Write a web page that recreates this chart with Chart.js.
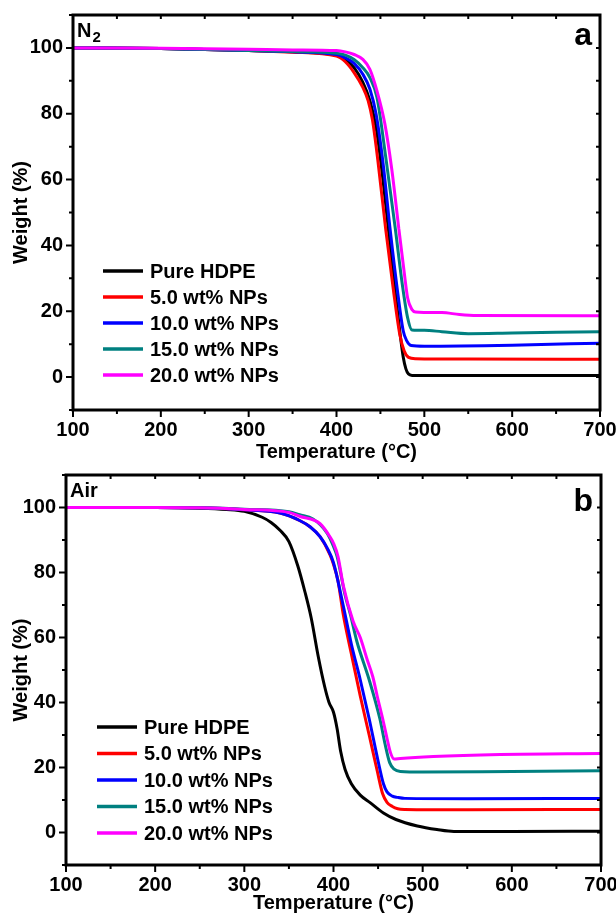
<!DOCTYPE html>
<html>
<head>
<meta charset="utf-8">
<script src="https://cdn.jsdelivr.net/npm/chart.js@4.4.1/dist/chart.umd.min.js"></script>
<style>
  body { margin: 0; background: #fff; }
  canvas { position: absolute; left: 0; }
  #chart-n2 { top: 0; }
  #chart-air { top: 470px; }
</style>
</head>
<body>
<canvas id="chart-n2" width="616" height="470"></canvas>
<canvas id="chart-air" width="616" height="446"></canvas>
<script>
// series names and colours
const seriesNames = ['Pure HDPE', '5.0 wt% NPs', '10.0 wt% NPs', '15.0 wt% NPs', '20.0 wt% NPs'];
const seriesColors = ['#000000', '#ff0000', '#0000ff', '#008080', '#ff00ff'];

//  (a) N2 atmosphere: temperature (C) / weight (%)
const n2PureT = [100, 200, 300, 350, 400, 410, 420, 430, 438, 445, 452, 459, 466, 472, 476, 479, 482, 486, 500, 600, 700];
const n2PureW = [100, 99.8, 99.2, 98.8, 97.8, 96.5, 94, 89.5, 84, 76, 62, 45, 28, 14, 6, 2.5, 0.9, 0.5, 0.5, 0.5, 0.5];
const n2P5T = [100, 200, 300, 350, 400, 410, 420, 430, 436, 441, 447, 456, 465, 472, 477, 482, 490, 550, 700];
const n2P5W = [100, 99.8, 99.2, 98.7, 97.5, 95.8, 92.5, 88, 84, 78, 66, 45, 26, 13, 8, 6, 5.6, 5.5, 5.4];
const n2P10T = [100, 200, 300, 350, 400, 410, 420, 430, 438, 445, 453, 461, 470, 476, 480, 485, 500, 600, 700];
const n2P10W = [100, 99.8, 99.2, 98.8, 98, 97, 95.3, 92, 87.5, 80, 65, 45, 25, 14, 11, 9.6, 9.4, 9.7, 10.3];
const n2P15T = [100, 200, 300, 350, 400, 410, 420, 430, 438, 446, 457, 467, 475, 481, 486, 500, 520, 550, 600, 700];
const n2P15W = [100, 99.8, 99.2, 98.9, 98.4, 97.8, 96.5, 94, 91, 85, 65, 45, 28, 18, 14.3, 14.2, 13.8, 13.2, 13.4, 13.8];
const n2P20T = [100, 200, 300, 350, 400, 410, 420, 430, 438, 446, 455, 463, 471, 477, 481, 486, 490, 520, 540, 560, 700];
const n2P20W = [100, 99.9, 99.6, 99.4, 99.2, 98.8, 98, 96.5, 93.5, 87, 77, 63, 45, 32, 24, 20.5, 19.8, 19.6, 19, 18.7, 18.6];

//  (b) Air atmosphere
const airPureT = [100, 200, 250, 280, 300, 320, 330, 340, 350, 360, 368, 375, 383, 390, 395, 400, 404, 408, 413, 420, 430, 441, 456, 470, 494, 516, 535, 600, 700];
const airPureW = [100, 100, 99.8, 99.4, 98.8, 97, 95.4, 93, 89.5, 82, 74, 66, 54, 45, 40, 37, 32, 25, 19.4, 15, 11.5, 9.2, 6, 4, 2, 0.9, 0.3, 0.3, 0.4];
const airP5T = [100, 200, 250, 300, 340, 362, 374, 385, 396, 400, 405, 411, 420, 430, 440, 449, 455, 460, 466, 472, 480, 550, 700];
const airP5W = [100, 100, 99.9, 99.3, 98.3, 96, 94, 91, 85.5, 82.5, 77.5, 67, 55, 42, 30, 19, 12, 9.3, 8, 7.3, 7.1, 7.0, 7.1];
const airP10T = [100, 200, 250, 300, 340, 362, 374, 385, 393, 400, 410, 420, 430, 440, 450, 456, 460, 466, 472, 480, 550, 700];
const airP10W = [100, 100, 99.9, 99.3, 98.3, 96, 94, 91, 87.5, 83, 71, 58, 47, 35, 22, 15, 12.5, 11.2, 10.8, 10.5, 10.4, 10.5];
const airP15T = [100, 200, 250, 300, 350, 362, 377, 393, 400, 404, 413, 419, 426, 440, 452, 458, 463, 468, 475, 500, 600, 700];
const airP15W = [100, 100, 99.9, 99.5, 98.7, 97.8, 96.5, 92, 88, 85, 73, 67, 59, 47, 35, 27, 21.5, 19.5, 18.8, 18.6, 18.8, 19.0];
const airP20T = [100, 200, 250, 300, 350, 362, 385, 396, 400, 405, 411, 422, 430, 438, 444, 449, 456, 460, 464, 468, 475, 512, 587, 700];
const airP20W = [100, 100, 99.9, 99.4, 98.5, 97.3, 95, 91, 89, 85, 76, 65, 60, 53, 48, 42, 34, 29, 24.5, 22.6, 22.8, 23.4, 24, 24.3];

Chart.defaults.font.family = "'Liberation Sans', Arial, sans-serif";
Chart.defaults.font.weight = 'bold';
Chart.defaults.color = '#000';

function makeDatasets(pairs) {
    return pairs.map((p, i) => ({
        label: seriesNames[i],
        data: p[0].map((t, k) => ({x: t, y: p[1][k]})),
        borderColor: seriesColors[i],
        borderWidth: 3,
        pointRadius: 0,
        cubicInterpolationMode: 'monotone',
        order: 5 - i
    }));
}

// frame, tick marks, legend and panel labels
const decorations = {
    id: 'decorations',
    afterDatasetsDraw(chart, args, opts) {
        const {ctx, chartArea: a, scales: {x, y}} = chart;
        ctx.save();
        ctx.strokeStyle = '#000';
        ctx.lineWidth = 2;
        ctx.beginPath();
        x.ticks.forEach(t => {
            const px = x.getPixelForValue(t.value);
            const len = t.value % 100 === 0 ? 7 : 4;
            ctx.moveTo(px, a.bottom); ctx.lineTo(px, a.bottom + len);
            ctx.moveTo(px, a.top); ctx.lineTo(px, a.top + 4);
        });
        y.ticks.forEach(t => {
            const py = y.getPixelForValue(t.value);
            const len = t.value % 20 === 0 ? 7 : 4;
            ctx.moveTo(a.left, py); ctx.lineTo(a.left - len, py);
            ctx.moveTo(a.right, py); ctx.lineTo(a.right - 4, py);
        });
        ctx.stroke();
        ctx.lineWidth = 3;
        ctx.strokeRect(a.left, a.top, a.right - a.left, a.bottom - a.top);

        // legend
        ctx.font = "bold 20px 'Liberation Sans', Arial, sans-serif";
        ctx.textBaseline = 'middle';
        ctx.fillStyle = '#000';
        chart.data.datasets.forEach((ds, i) => {
            const ly = a.top + opts.legendTop + i * opts.legendStep;
            ctx.strokeStyle = ds.borderColor;
            ctx.lineWidth = 3.5;
            ctx.beginPath();
            ctx.moveTo(a.left + opts.legendX, ly);
            ctx.lineTo(a.left + opts.legendX + 40, ly);
            ctx.stroke();
            ctx.fillText(ds.label, a.left + opts.legendX + 47, ly + 1);
        });

        // panel labels
        ctx.textBaseline = 'alphabetic';
        ctx.font = "bold 20px 'Liberation Sans', Arial, sans-serif";
        ctx.fillText(opts.gas, a.left + 4, a.top + opts.gasBase);
        if (opts.sub) {
            const w = ctx.measureText(opts.gas).width;
            ctx.font = "bold 15px 'Liberation Sans', Arial, sans-serif";
            ctx.fillText(opts.sub, a.left + 5 + w, a.top + opts.gasBase + 5);
        }
        ctx.font = "bold 32px 'Liberation Sans', Arial, sans-serif";
        ctx.textAlign = 'right';
        ctx.fillText(opts.letter, a.right - 8, a.top + opts.letterBase);
        ctx.restore();
    }
};

function makeOptions(axisHeight, titlePad, deco) {
    return {
        responsive: false,
        animation: false,
        events: [],
        layout: { padding: { top: deco.top, right: deco.right, left: 0, bottom: 0 } },
        plugins: {
            legend: { display: false },
            tooltip: { enabled: false },
            decorations: deco
        },
        scales: {
            x: {
                type: 'linear',
                min: 100,
                max: 700,
                afterFit: s => {
                    s.height = axisHeight;
                    s.paddingLeft = 0;
                    s.paddingRight = 0;
                },
                grid: { display: false, drawTicks: false },
                border: { display: false },
                ticks: {
                    stepSize: 50,
                    autoSkip: false,
                    maxRotation: 0,
                    padding: 8,
                    font: { size: 20, weight: 'bold' },
                    callback: v => v % 100 === 0 ? v : ''
                },
                title: {
                    display: true,
                    text: 'Temperature (°C)',
                    font: { size: 20, weight: 'bold' },
                    padding: { top: 0, bottom: titlePad }
                }
            },
            y: {
                min: -10,
                max: 110,
                afterFit: s => {
                    s.width = deco.left;
                    s.paddingTop = 0;
                    s.paddingBottom = 0;
                },
                grid: { display: false, drawTicks: false },
                border: { display: false },
                ticks: {
                    stepSize: 10,
                    padding: 10,
                    font: { size: 20, weight: 'bold' },
                    callback: v => (v % 20 === 0 && v >= 0 && v <= 100) ? v : ''
                },
                title: {
                    display: true,
                    text: 'Weight (%)',
                    font: { size: 20, weight: 'bold' },
                    padding: { top: 9, bottom: 0 }
                }
            }
        }
    };
}

new Chart(document.getElementById('chart-n2'), {
    type: 'line',
    data: {
        datasets: makeDatasets([
            [n2PureT, n2PureW], [n2P5T, n2P5W], [n2P10T, n2P10W], [n2P15T, n2P15W], [n2P20T, n2P20W]
        ])
    },
    options: makeOptions(60, 6, {
        top: 15, right: 16, left: 73,
        legendX: 30, legendTop: 256, legendStep: 26,
        gas: 'N', sub: '2', gasBase: 22, letter: 'a', letterBase: 30
    }),
    plugins: [decorations]
});

new Chart(document.getElementById('chart-air'), {
    type: 'line',
    data: {
        datasets: makeDatasets([
            [airPureT, airPureW], [airP5T, airP5W], [airP10T, airP10W], [airP15T, airP15W], [airP20T, airP20W]
        ])
    },
    options: makeOptions(51, 1, {
        top: 5, right: 15, left: 66,
        legendX: 31, legendTop: 252, legendStep: 26.5,
        gas: 'Air', sub: '', gasBase: 22, letter: 'b', letterBase: 36
    }),
    plugins: [decorations]
});
</script>
</body>
</html>
